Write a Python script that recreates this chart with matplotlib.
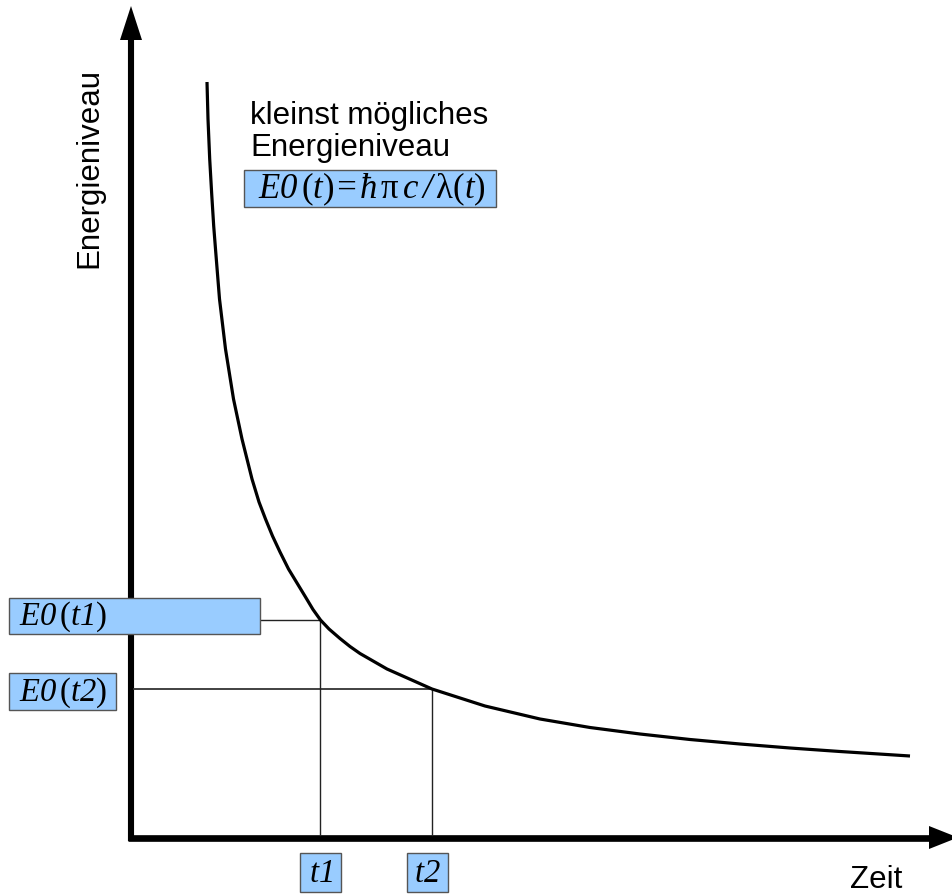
import numpy as np
import matplotlib
matplotlib.use("Agg")
import matplotlib.pyplot as plt
from matplotlib.patches import Rectangle

plt.rcParams["mathtext.fontset"] = "custom"
plt.rcParams["mathtext.rm"] = "Liberation Serif:italic"
plt.rcParams["mathtext.it"] = "Liberation Serif:italic"
plt.rcParams["mathtext.sf"] = "Liberation Serif"
plt.rcParams["font.family"] = ["Liberation Sans", "DejaVu Sans"]

# curve (time, energy level), arbitrary units
zeit = [0.76, 0.77, 0.787, 0.807, 0.827, 0.845, 0.885, 0.945, 1.025, 1.11,
        1.21, 1.28, 1.345, 1.415, 1.49, 1.575, 1.66, 1.745, 1.82, 1.895,
        1.98, 2.09, 2.19, 2.29, 2.56, 3.01, 3.54, 4.09, 4.59, 5.09,
        5.59, 6.09, 6.59, 7.09, 7.79]
energie = [7.555, 7.185, 6.785, 6.435, 6.115, 5.885, 5.385, 4.885, 4.385, 3.985,
           3.585, 3.355, 3.185, 3.015, 2.855, 2.685, 2.545, 2.405, 2.28, 2.175,
           2.085, 1.99, 1.91, 1.84, 1.685, 1.485, 1.315, 1.185, 1.10, 1.035,
           0.98, 0.935, 0.895, 0.86, 0.815]

# the two marked points on the curve
t_marks = [1.895, 3.01]
e_marks = [2.175, 1.485]
t_labels = [r"$t1$", r"$t2$"]
e_labels = [r"$E0\,\mathsf{(}t1\mathsf{)}$", r"$E0\,\mathsf{(}t2\mathsf{)}$"]
formel = (r"$E0\,\mathsf{(}t\mathsf{)}\!=\!\hbar\,\mathsf{\pi}\,c\,/\,"
          r"\mathsf{\lambda}\mathsf{(}t\mathsf{)}$")

W, H = 952, 895
X0, Y0, S = 131, 838.5, 100.0


def px(x, y):
    # picture pixel -> data units
    return (x - X0) / S, (Y0 - y) / S


fig = plt.figure(figsize=(W / 100, H / 100), dpi=100)
ax = fig.add_axes([0, 0, 1, 1])
ax.set_xlim(-X0 / S, (W - X0) / S)
ax.set_ylim((Y0 - H) / S, Y0 / S)
ax.axis("off")

box_fc = "#99ccff"
box_ec = "#555555"

# axes with arrow heads
ax.plot(*zip(px(131, 842), px(131, 40)), color="black", lw=4.4, solid_capstyle="butt")
ax.fill(*zip(px(131, 7), px(120, 41), px(142, 41)), color="black", lw=0)
ax.plot(*zip(px(128, 838.5), px(930, 838.5)), color="black", lw=4.8, solid_capstyle="butt")
ax.fill(*zip(px(958, 838.5), px(929, 827), px(929, 850)), color="black", lw=0)

# helper lines
x_left = px(134, 0)[0]
x_box1 = px(260, 0)[0]
ax.plot([x_box1, t_marks[0]], [e_marks[0], e_marks[0]], color="#222222", lw=1.0)
ax.plot([x_left, t_marks[1]], [e_marks[1], e_marks[1]], color="#333333", lw=1.3)
for t, e in zip(t_marks, e_marks):
    ax.plot([t, t], [0.03, e], color="#222222", lw=1.0)

# curve
ax.plot(zeit, energie, color="black", lw=2.3, solid_joinstyle="round",
        solid_capstyle="butt")


def box(x1, y1, x2, y2):
    a = px(x1, y2)
    b = px(x2, y1)
    ax.add_patch(Rectangle(a, b[0] - a[0], b[1] - a[1], facecolor=box_fc,
                           edgecolor=box_ec, lw=1.0, zorder=3))


# value labels on the y side
box(9, 599, 260, 635)
box(9, 674, 116, 711)
for (yc, lab) in zip([617, 692.5], e_labels):
    x, y = px(19, yc)
    ax.text(x, y, lab, fontsize=23.5, ha="left", va="center", zorder=4)

# time labels
for (x1, x2), lab in zip([(300, 341), (407, 448)], t_labels):
    box(x1, 854, x2, 893)
    x, y = px((x1 + x2) / 2, 873.5)
    ax.text(x, y, lab, fontsize=23.5, ha="center", va="center", zorder=4)

# annotation
x, y = px(250, 101)
ax.text(x, y, "kleinst mögliches\nEnergieniveau", fontsize=22.5, ha="left",
        va="top", linespacing=1.1)
box(244, 171, 496, 208)
x, y = px(372, 189.5)
ax.text(x, y, formel, fontsize=25, ha="center", va="center", zorder=4)

# axis labels
x, y = px(89, 168)
ax.text(x, y, "Energieniveau", fontsize=22.5, rotation=90, ha="center", va="center")
x, y = px(850, 895)
ax.text(x, y, "Zeit", fontsize=22.5, ha="left", va="bottom")

fig.savefig("out.png", dpi=100)
